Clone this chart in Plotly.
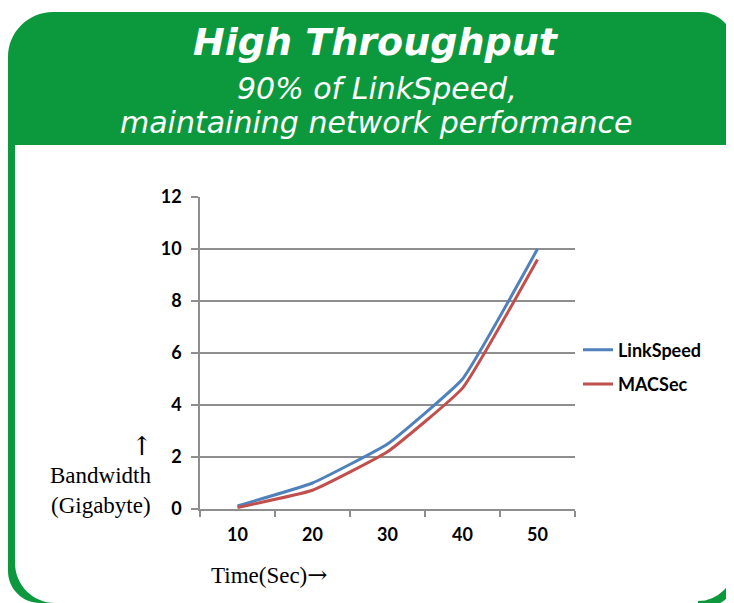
import plotly.graph_objects as go

# ---- data ----
time_labels = ["10", "20", "30", "40", "50"]
linkspeed = [0.12, 1.0, 2.5, 5.0, 10.0]
macsec = [0.06, 0.72, 2.2, 4.65, 9.6]
y_ticks = [0, 2, 4, 6, 8, 10, 12]

GREEN = "#0C993E"
BLUE = "#4F81BD"
RED = "#C0504D"
GRID = "#8E8E8E"

OFF = 8  # page body margin
W, H = 734 - OFF, 603 - OFF
# plot area in reference-pixel coordinates
X0, X1, Y0, Y1 = 200, 575, 197, 509
L, T = X0 - OFF, Y0 - OFF
R, B = W - (X1 - OFF), H - (Y1 - OFF)
PW, PH = X1 - X0, Y1 - Y0
K = 0.5523


def px(x):
    return (x - X0) / PW


def py(y):
    return (Y1 - y) / PH


def m(x, y):
    return f"{px(x):.5f},{py(y):.5f}"


# green header + left border (L-shaped frame piece)
frame_path = (
    f"M {m(53, 12)} L {m(700, 12)} "
    f"C {m(700 + K*34, 12)} {m(734, 46 - K*34)} {m(734, 46)} "
    f"L {m(734, 145)} L {m(15, 145)} L {m(15, 563)} "
    f"C {m(15, 563 + K*40)} {m(55 - K*40, 603)} {m(55, 603)} "
    f"L {m(40, 603)} "
    f"C {m(40 - K*32, 603)} {m(8, 571 + K*32)} {m(8, 571)} "
    f"L {m(8, 57)} "
    f"C {m(8, 57 - K*45)} {m(53 - K*45, 12)} {m(53, 12)} Z"
)
# bottom-right corner stroke
cx, cy, r = 698, 565, 40
corner_path = (
    f"M {m(cx + r, cy - 10)} L {m(cx + r, cy)} "
    f"C {m(cx + r, cy + K*r)} {m(cx + K*r, cy + r)} {m(cx, cy + r)}"
)

fig = go.Figure()
fig.add_trace(go.Scatter(x=time_labels, y=linkspeed, name="LinkSpeed", mode="lines",
                         line=dict(color=BLUE, width=3, shape="spline", smoothing=0.35),
                         legendgroup="a"))
fig.add_trace(go.Scatter(x=time_labels, y=macsec, name="MACSec", mode="lines",
                         line=dict(color=RED, width=3, shape="spline", smoothing=0.35),
                         legendgroup="b"))

shapes = [
    dict(type="path", xref="paper", yref="paper", layer="below",
         path=frame_path, fillcolor=GREEN, line=dict(width=0)),
    dict(type="path", xref="paper", yref="paper", layer="below",
         path=corner_path, fillcolor="rgba(0,0,0,0)", line=dict(width=8, color=GREEN)),
]

title_font = dict(family="DejaVu Sans", color="white")
serif = dict(family="Liberation Serif", color="black")
annotations = [
    dict(text="<b><i>High Throughput</i></b>", x=px(376), y=py(42), xref="paper", yref="paper",
         showarrow=False, xanchor="center", yanchor="middle",
         font=dict(size=38, **title_font)),
    dict(text="<i>90% of LinkSpeed,</i>", x=px(377), y=py(89), xref="paper", yref="paper",
         showarrow=False, xanchor="center", yanchor="middle",
         font=dict(size=30, **title_font)),
    dict(text="<i>maintaining network performance</i>", x=px(376), y=py(123), xref="paper", yref="paper",
         showarrow=False, xanchor="center", yanchor="middle",
         font=dict(size=30, **title_font)),
    dict(text="↑", x=px(155), y=py(446), xref="paper", yref="paper",
         showarrow=False, xanchor="right", yanchor="middle",
         font=dict(size=26, family="DejaVu Serif", color="black")),
    dict(text="Bandwidth", x=px(153), y=py(475), xref="paper", yref="paper",
         showarrow=False, xanchor="right", yanchor="middle",
         font=dict(size=23, **serif)),
    dict(text="(Gigabyte)", x=px(153), y=py(505), xref="paper", yref="paper",
         showarrow=False, xanchor="right", yanchor="middle",
         font=dict(size=23, **serif)),
    dict(text="Time(Sec)<span style='font-family:DejaVu Serif;font-size:24px'>→</span>",
         x=px(209), y=py(575), xref="paper", yref="paper",
         showarrow=False, xanchor="left", yanchor="middle",
         font=dict(size=23, **serif)),
]

tick_font = dict(family="Lato", size=18, color="black", weight="bold")

fig.update_layout(
    width=W, height=H,
    margin=dict(l=L, r=R, t=T, b=B, pad=0, autoexpand=False),
    paper_bgcolor="white",
    plot_bgcolor="rgba(0,0,0,0)",
    shapes=shapes,
    annotations=annotations,
    showlegend=True,
    legend=dict(x=px(578), y=py(367), xanchor="left", yanchor="middle",
                font=tick_font, tracegroupgap=8, bgcolor="rgba(0,0,0,0)", itemwidth=30),
    xaxis=dict(type="category", range=[-0.5, 4.5], tickson="boundaries",
               ticks="outside", ticklen=6, tickcolor=GRID, tickwidth=1.5,
               showline=True, linecolor=GRID, linewidth=1.5,
               showgrid=False, zeroline=False, tickfont=tick_font,
               ticklabelstandoff=9),
    yaxis=dict(range=[0, 12], tickvals=y_ticks, ticks="outside", ticklen=7,
               tickcolor=GRID, tickwidth=1.5,
               showline=True, linecolor=GRID, linewidth=1.5,
               showgrid=True, gridcolor=GRID, gridwidth=1.5, zeroline=False,
               tickfont=tick_font, ticklabelstandoff=6),
)

fig.write_html("out.html")
